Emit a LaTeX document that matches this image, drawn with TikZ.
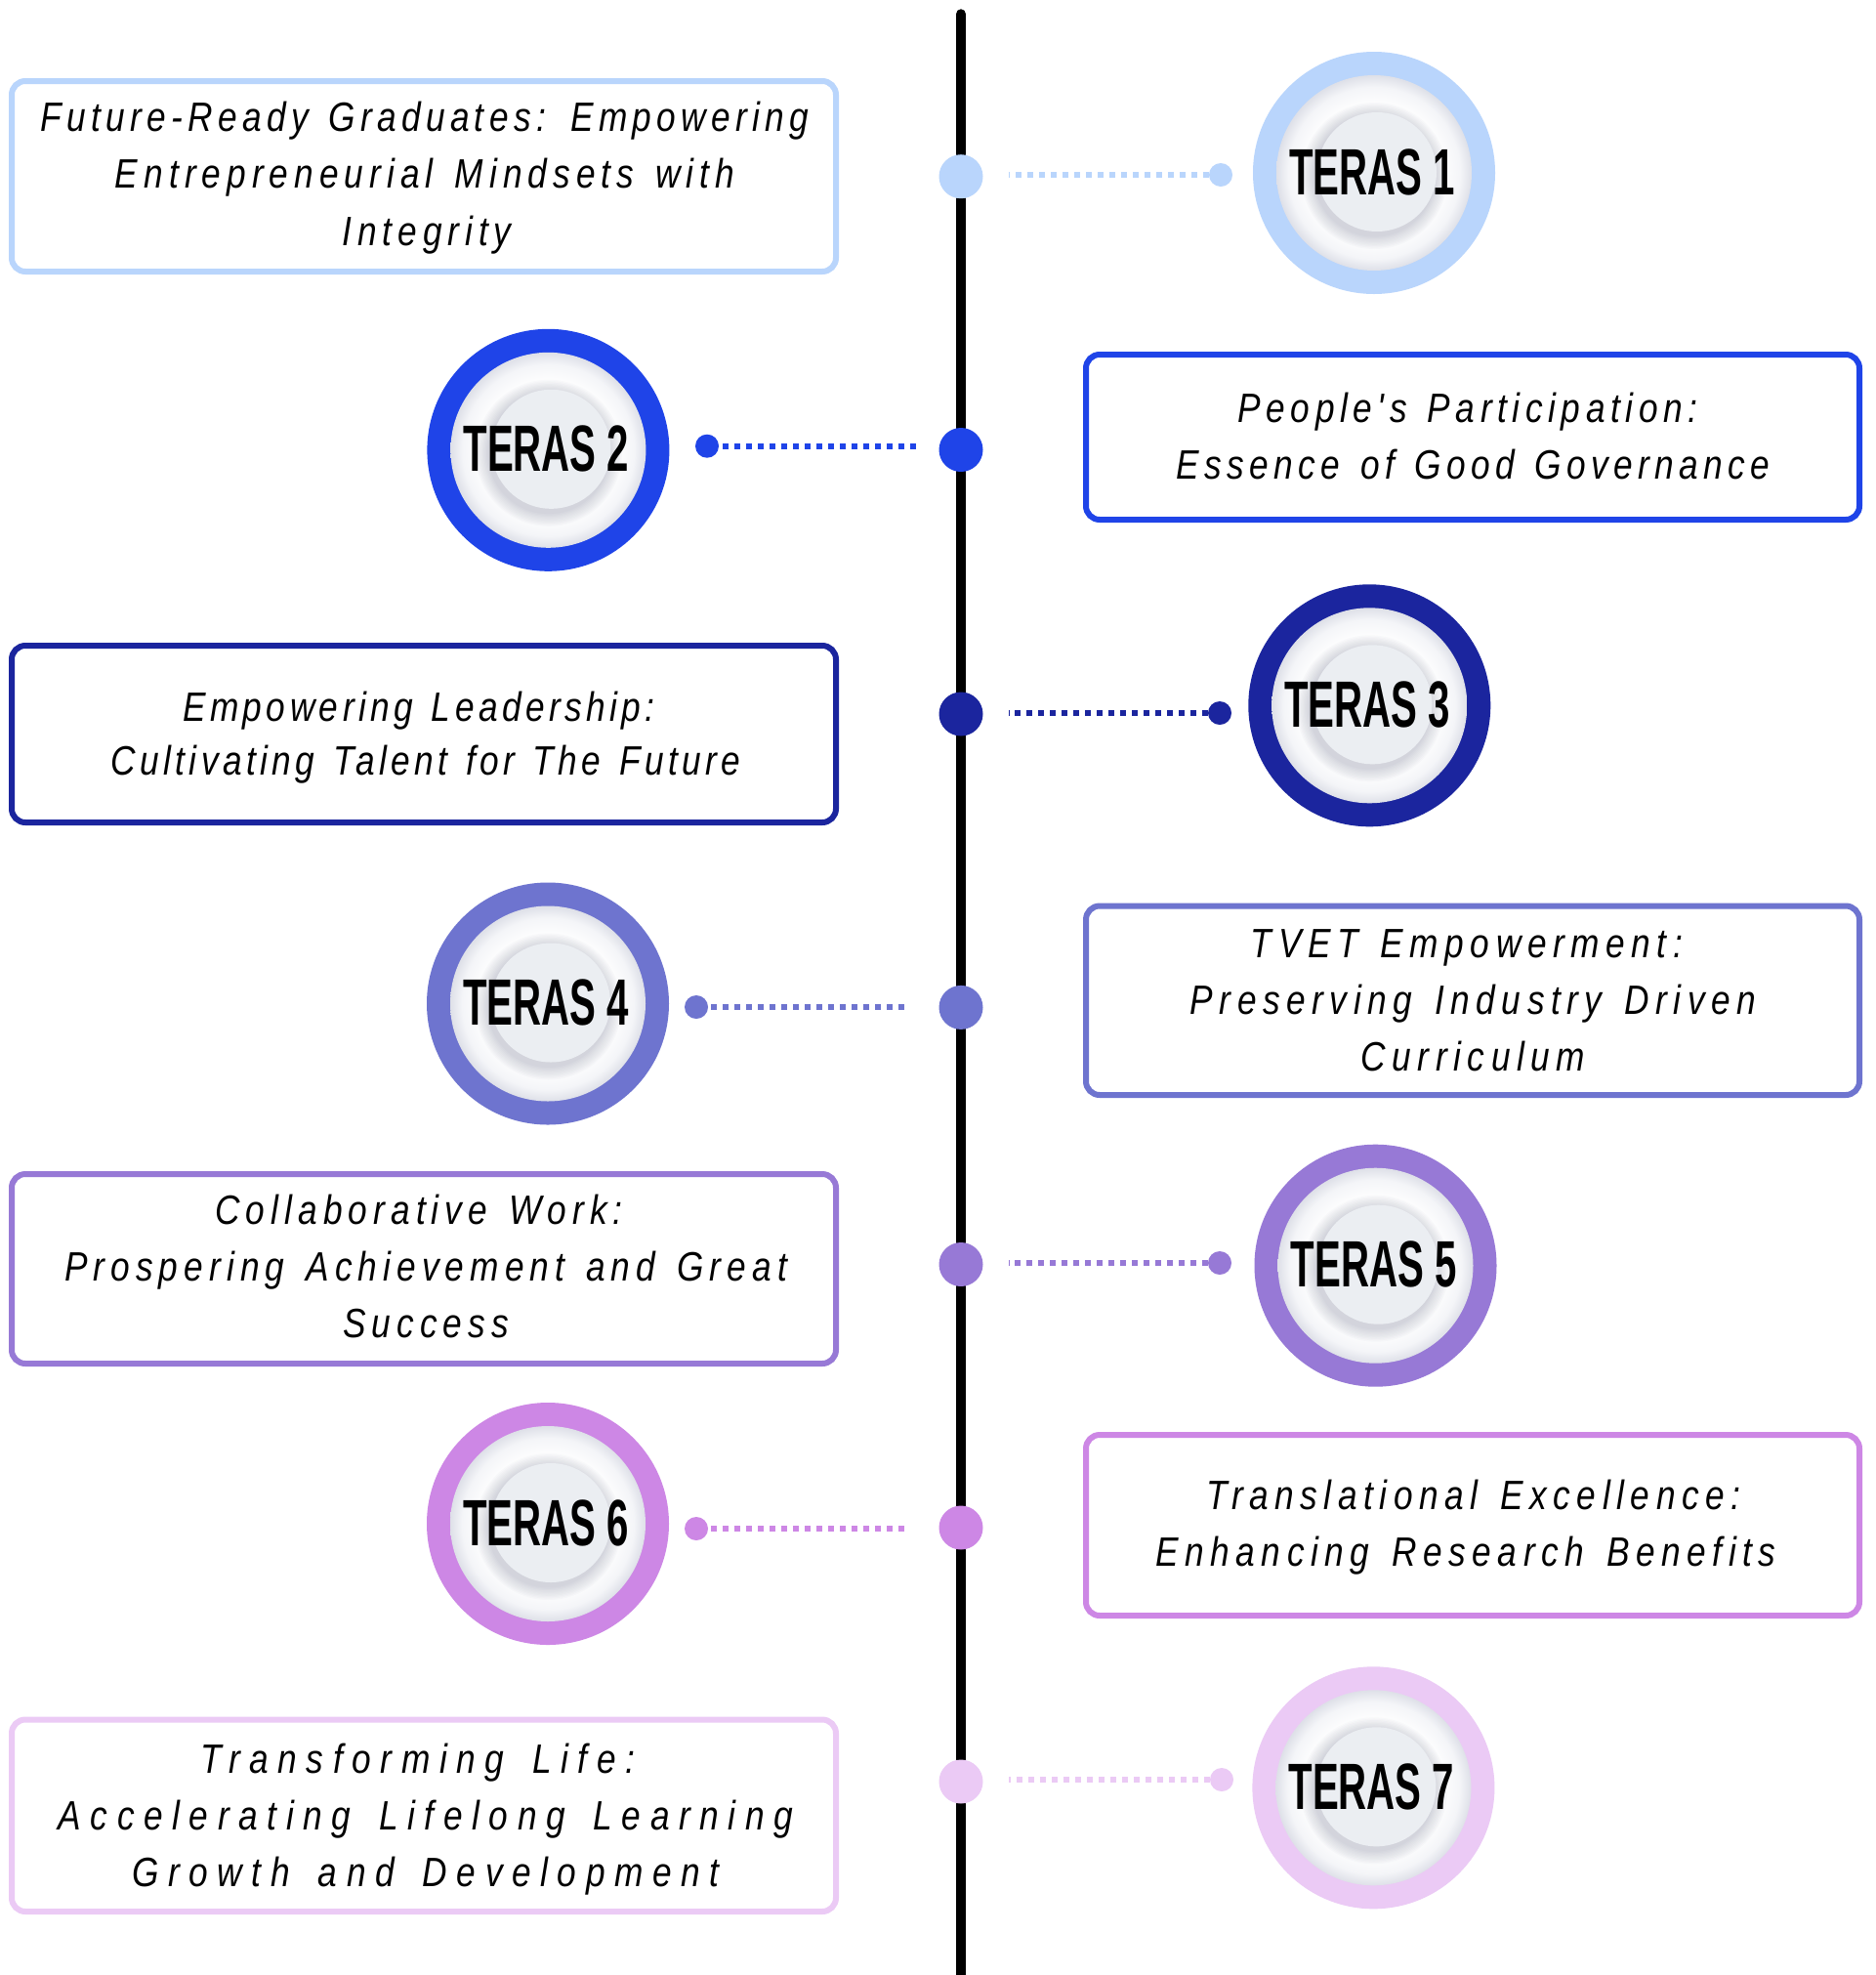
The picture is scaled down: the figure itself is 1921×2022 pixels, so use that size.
\documentclass[tikz,border=0pt]{standalone}
\usepackage{fontspec}
\newfontfamily\boxfont{Liberation Sans}[FakeStretch=0.84,Ligatures=TeXOff]
\newfontfamily\terasfont{Liberation Sans}[FakeStretch=0.6]
\definecolor{k1}{HTML}{B9D5FC}
\definecolor{k2}{HTML}{1F44E8}
\definecolor{k3}{HTML}{1B259E}
\definecolor{k4}{HTML}{6E74CF}
\definecolor{k5}{HTML}{9779D6}
\definecolor{k6}{HTML}{CD87E5}
\definecolor{k7}{HTML}{EBCAF5}
\definecolor{diskc}{HTML}{EBEEF2}
\definecolor{plateB}{HTML}{F4F5F8}
\definecolor{plateC}{HTML}{DEE0E8}
\definecolor{shcol}{HTML}{7A8099}
\pgfdeclareradialshading{platesh}{\pgfpointorigin}{color(0bp)=(white); color(17bp)=(white); color(22bp)=(plateB); color(25bp)=(plateC); color(50bp)=(plateC)}
\tikzset{
  ring/.style={circle, inner sep=0pt, minimum size=248pt},
  plate/.style={circle, inner sep=0pt, minimum size=200pt, shading=platesh},
  disk/.style={circle, inner sep=0pt, minimum size=122pt, fill=diskc},
  terastext/.style={inner sep=0pt, font=\terasfont\bfseries\fontsize{67}{67}\selectfont},
  ldot/.style={circle, inner sep=0pt, minimum size=45pt},
  sdot/.style={circle, inner sep=0pt, minimum size=24pt},
  dotline/.style={line width=6pt, dash pattern=on 6pt off 6pt},
  tbox/.style={rectangle, draw, line width=6pt, rounded corners=14pt, fill=white, inner sep=0pt},
  btext/.style={inner sep=0pt, anchor=base, font={\boxfont\addfontfeatures{LetterSpace=#1}\itshape\fontsize{42}{58}\selectfont\spaceskip=\fontdimen2\font\advance\spaceskip by 0.42\dimexpr #1pt\relax}},
  timeline/.style={line width=10.5pt, line cap=round, black}
}
\newcommand\terasbadge[5]{%
  \node[ring, fill=#4] (#1) at (#2,#3) {};
  \node[plate] (#1p) at (#2,#3) {};
  \foreach \k in {1,...,10}{\fill[shcol, fill opacity=0.035] (#2+0.5,#3+3) circle[radius={(61+\k*1.4)*1pt}];}
  \node[disk] (#1d) at (#2+3,#3-1) {};
  \node[terastext] (#1t) at (#2-2,#3-1) {TERAS #5};
}
\begin{document}
\begin{tikzpicture}[x=1pt,y=-1pt]
\useasboundingbox (0,0) rectangle (1921,2022);
\fill[white] (0,0) rectangle (1921,2022);
% timeline
\coordinate (top) at (984,14.5);
\coordinate (bot) at (984,2032);
\draw[timeline] (top) -- (bot);
% dots on timeline
\node[ldot, fill=k1] (l1) at (984,180.7) {};
\node[ldot, fill=k2] (l2) at (984,460.5) {};
\node[ldot, fill=k3] (l3) at (984,731) {};
\node[ldot, fill=k4] (l4) at (984,1031.4) {};
\node[ldot, fill=k5] (l5) at (984,1294.5) {};
\node[ldot, fill=k6] (l6) at (984,1564) {};
\node[ldot, fill=k7] (l7) at (984,1824) {};
% small dots
\node[sdot, fill=k1] (s1) at (1250,179) {};
\node[sdot, fill=k2] (s2) at (724,456.7) {};
\node[sdot, fill=k3] (s3) at (1249,730) {};
\node[sdot, fill=k4] (s4) at (713,1031) {};
\node[sdot, fill=k5] (s5) at (1249,1293) {};
\node[sdot, fill=k6] (s6) at (713,1565) {};
\node[sdot, fill=k7] (s7) at (1251,1822) {};
% dotted connectors
\draw[dotline, k1, shorten >=26pt] (s1.west) -- (s1 -| l1.east);
\draw[dotline, k2, shorten <=4pt, shorten >=20.5pt] (s2.east) -- (s2 -| l2.west);
\draw[dotline, k3, shorten >=26pt] (s3.west) -- (s3 -| l3.east);
\draw[dotline, k4, shorten <=3pt, shorten >=33.5pt] (s4.east) -- (s4 -| l4.west);
\draw[dotline, k5, shorten >=26pt] (s5.west) -- (s5 -| l5.east);
\draw[dotline, k6, shorten <=3pt, shorten >=33.5pt] (s6.east) -- (s6 -| l6.west);
\draw[dotline, k7, shorten >=26pt] (s7.west) -- (s7 -| l7.east);
% badges
\terasbadge{c1}{1407}{177}{k1}{1}
\terasbadge{c2}{561.4}{460.8}{k2}{2}
\terasbadge{c3}{1402.3}{722.3}{k3}{3}
\terasbadge{c4}{561}{1027.5}{k4}{4}
\terasbadge{c5}{1408.5}{1295.7}{k5}{5}
\terasbadge{c6}{561}{1560}{k6}{6}
\terasbadge{c7}{1406.4}{1830.3}{k7}{7}
% boxes
\node[tbox, draw=k1, minimum width=844pt, minimum height=195pt] (b1) at (434,180.5) {};
\node[tbox, draw=k2, minimum width=792pt, minimum height=169pt] (b2) at (1508,447.5) {};
\node[tbox, draw=k3, minimum width=844pt, minimum height=181pt] (b3) at (434,751.5) {};
\node[tbox, draw=k4, minimum width=792pt, minimum height=193.5pt] (b4) at (1508,1024.25) {};
\node[tbox, draw=k5, minimum width=844pt, minimum height=194pt] (b5) at (434,1299) {};
\node[tbox, draw=k6, minimum width=792pt, minimum height=185pt] (b6) at (1508,1561.5) {};
\node[tbox, draw=k7, minimum width=844pt, minimum height=196.5pt] (b7) at (434,1858.75) {};
% box texts
\node[btext=12.7] (t1a) at (435,134) {Future-Ready Graduates: Empowering};
\node[btext=14.4] (t1b) at (435,192.5) {Entrepreneurial Mindsets with};
\node[btext=14.2] (t1c) at (437,251) {Integrity};
\node[btext=13.3] (t2a) at (1503,432) {People's Participation:};
\node[btext=12.8] (t2b) at (1508.5,490) {Essence of Good Governance};
\node[btext=10.6] (t3a) at (429,738) {Empowering Leadership:};
\node[btext=10.6] (t3b) at (436,793) {Cultivating Talent for The Future};
\node[btext=15.6] (t4a) at (1502,980) {TVET Empowerment:};
\node[btext=15.6] (t4b) at (1508.5,1038) {Preserving Industry Driven};
\node[btext=15.6] (t4c) at (1508.5,1096) {Curriculum};
\node[btext=14.5] (t5a) at (429,1253) {Collaborative Work:};
\node[btext=14.5] (t5b) at (436,1311) {Prospering Achievement and Great};
\node[btext=14.5] (t5c) at (436,1369) {Success};
\node[btext=15.6] (t6a) at (1509,1545) {Translational Excellence:};
\node[btext=15.6] (t6b) at (1501,1603) {Enhancing Research Benefits};
\node[btext=22.8] (t7a) at (428,1815) {Transforming Life:};
\node[btext=22.8] (t7b) at (436,1873) {Accelerating Lifelong Learning};
\node[btext=22.8] (t7c) at (436,1931) {Growth and Development};
\end{tikzpicture}
\end{document}
